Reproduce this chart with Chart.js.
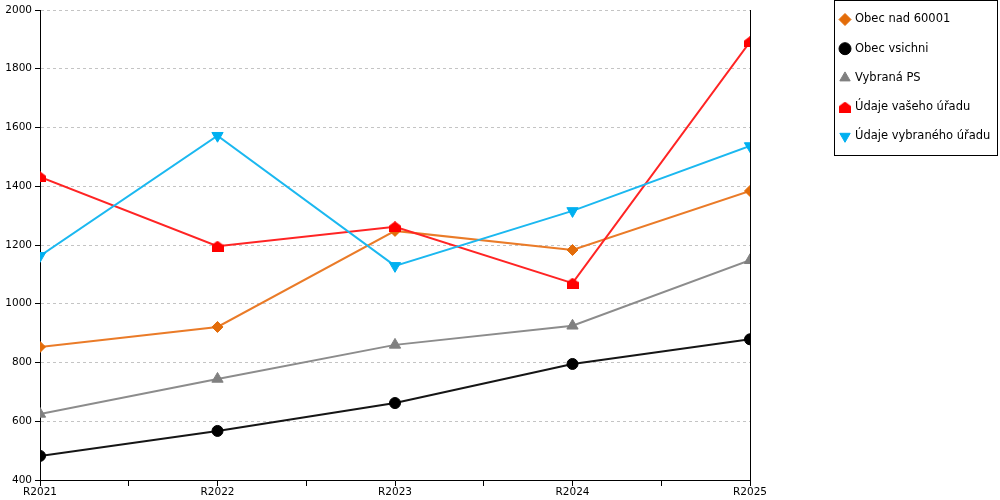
<!DOCTYPE html>
<html><head><meta charset="utf-8">
<script src="https://cdn.jsdelivr.net/npm/chart.js@4.4.0/dist/chart.umd.min.js"></script>
<style>html,body{margin:0;padding:0;background:#fff;}canvas{display:block;}</style>
</head><body>
<canvas id="c" width="1000" height="500"></canvas>
<script>
const categories = ['R2021', 'R2022', 'R2023', 'R2024', 'R2025'];
const seriesNames = ['Obec nad 60001', 'Obec vsichni', 'Vybraná PS', 'Údaje vašeho úřadu', 'Údaje vybraného úřadu'];
const obecNad60001 = [853, 921, 1248, 1183, 1384];
const obecVsichni = [482, 567, 662, 795, 879];
const vybranaPS = [625, 744, 860, 925, 1148];
const udajeVasehoUradu = [1432, 1196, 1262, 1070, 1892];
const udajeVybranehoUradu = [1163, 1572, 1129, 1316, 1537];
const yTickLabels = [400, 600, 800, 1000, 1200, 1400, 1600, 1800, 2000];

const FONT = '"DejaVu Sans", Verdana, sans-serif';

// house-shaped marker
function makeHouse(color) {
  const c = document.createElement('canvas');
  c.width = 12; c.height = 11;
  const g = c.getContext('2d');
  g.fillStyle = color;
  g.beginPath();
  g.moveTo(6, 0);
  g.lineTo(12, 4.5);
  g.lineTo(12, 11);
  g.lineTo(0, 11);
  g.lineTo(0, 4.5);
  g.closePath();
  g.fill();
  return c;
}
const house = makeHouse('#FF0000');

const toXY = arr => arr.map((v, i) => ({ x: i, y: v }));

function ds(label, values, lineColor, markerColor, style, radius, rotation, order) {
  return {
    label, data: toXY(values),
    borderColor: lineColor, backgroundColor: markerColor,
    pointBackgroundColor: markerColor, pointBorderColor: markerColor,
    pointStyle: style, pointRadius: radius, pointHoverRadius: radius,
    pointRotation: rotation, pointBorderWidth: 1,
    borderWidth: 2, tension: 0, fill: false, order
  };
}

const datasets = [
  ds(seriesNames[0], obecNad60001, '#EA7B28', '#E36C09', 'rectRot', 5.5, 0, 5),
  ds(seriesNames[1], obecVsichni, '#151515', '#000000', 'circle', 5.5, 0, 4),
  ds(seriesNames[2], vybranaPS, '#8C8C8C', '#808080', 'triangle', 6.5, 0, 3),
  ds(seriesNames[3], udajeVasehoUradu, '#FF2424', '#FF0000', house, 6, 0, 2),
  ds(seriesNames[4], udajeVybranehoUradu, '#1BB8F0', '#00B0F0', 'triangle', 6.5, 180, 1)
];

function drawMarker(ctx, style, r, rot, x, y) {
  if (Chart.helpers && Chart.helpers.drawPoint) {
    Chart.helpers.drawPoint(ctx, { pointStyle: style, radius: r, rotation: rot, borderWidth: 1 }, x, y);
  } else if (style instanceof HTMLCanvasElement) {
    ctx.drawImage(style, x - style.width / 2, y - style.height / 2);
  } else {
    ctx.beginPath(); ctx.arc(x, y, r, 0, Math.PI * 2); ctx.fill();
  }
}

const legendPlugin = {
  id: 'customLegend',
  afterDraw(chart) {
    const ctx = chart.ctx;
    ctx.save();
    ctx.strokeStyle = '#000';
    ctx.lineWidth = 1;
    ctx.strokeRect(834.5, 0.5, 163, 155);
    ctx.font = '11.5px ' + FONT;
    ctx.textBaseline = 'middle';
    ctx.textAlign = 'left';
    chart.data.datasets.forEach((d, i) => {
      const y = 19.5 + i * 29.2;
      ctx.fillStyle = d.pointBackgroundColor;
      ctx.strokeStyle = d.pointBorderColor;
      ctx.lineWidth = 1;
      drawMarker(ctx, d.pointStyle, 6, d.pointRotation || 0, 845, y);
      ctx.fillStyle = '#000';
      ctx.fillText(d.label, 855, y);
    });
    ctx.restore();
  }
};

new Chart(document.getElementById('c'), {
  type: 'line',
  data: { datasets },
  plugins: [legendPlugin],
  options: {
    responsive: false,
    animation: false,
    events: [],
    layout: { padding: { left: 0, right: 250, top: 10, bottom: 0 } },
    plugins: { legend: { display: false }, tooltip: { enabled: false }, title: { display: false } },
    scales: {
      x: {
        type: 'linear',
        min: 0, max: categories.length - 1,
        afterFit: s => { s.height = 20; },
        ticks: {
          stepSize: 0.5, autoSkip: false, maxRotation: 0, padding: 0,
          color: '#000', font: { family: FONT, size: 10.5 },
          callback: v => Number.isInteger(v) ? categories[v] : ''
        },
        grid: {
          color: c => (c.tick && c.tick.value === categories.length - 1) ? '#000' : 'rgba(0,0,0,0)',
          lineWidth: 1, tickColor: '#000', tickLength: 6, drawTicks: true
        },
        border: { display: true, color: '#000', width: 1 }
      },
      y: {
        min: yTickLabels[0], max: yTickLabels[yTickLabels.length - 1],
        afterFit: s => { s.width = 40; },
        afterBuildTicks: s => { s.ticks = yTickLabels.map(v => ({ value: v })); },
        ticks: { padding: 3, color: '#000', font: { family: FONT, size: 10.5 }, callback: v => String(v) },
        grid: { color: '#C4C4C4', lineWidth: 1, tickColor: '#000', tickLength: 5, tickBorderDash: [] },
        border: { display: true, color: '#000', width: 1, dash: [3, 3] }
      }
    }
  }
});
</script>
</body></html>
